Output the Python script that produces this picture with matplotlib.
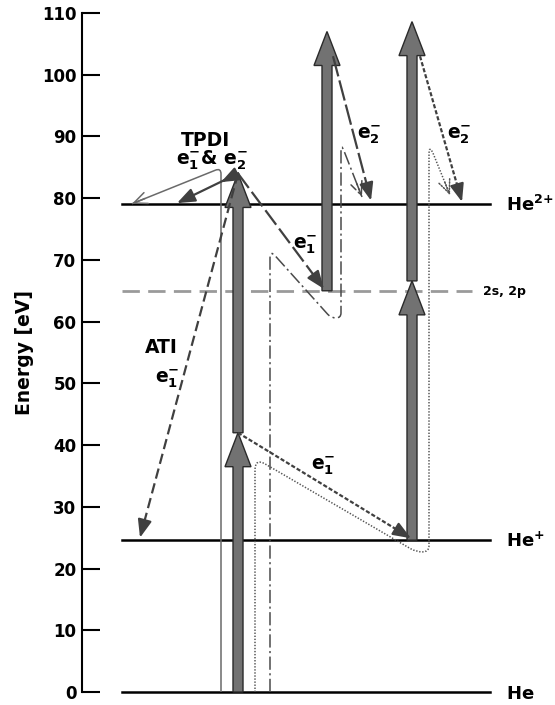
import numpy as np
import matplotlib
matplotlib.use('Agg')
import matplotlib.pyplot as plt
from matplotlib.path import Path
from matplotlib.patches import PathPatch, Polygon

plt.rcParams['font.family'] = ['DejaVu Sans']
plt.rcParams['font.weight'] = 'bold'
plt.rcParams['axes.labelweight'] = 'bold'
plt.rcParams['mathtext.fontset'] = 'dejavusans'
plt.rcParams['lines.scale_dashes'] = False

# energy levels (eV)
level_names = [r'$\mathbf{He}$', r'$\mathbf{He^{+}}$', r'$\mathbf{He^{2{+}}}$']
level_eV = [0.0, 24.6, 79.0]
excited_name = '2s, 2p'
excited_eV = 65.0
photon_eV = 42.0

# photon columns: x position, start energy, number of photons
col_x = [238, 327, 412]
col_start = [0.0, 65.0, 24.6]
col_n = [2, 1, 2]

# electron arrows: x0, E0, x1, E1, dash pattern
electrons = [
    (238, 84.0, 221, 82.6, None),
    (238, 84.0, 177, 79.2, None),
    (238, 84.0, 140, 25.0, (7.5, 3.5)),
    (238, 84.0, 324, 65.3, (13, 3.5)),
    (238, 42.0, 411, 24.9, (3, 1.5)),
    (333, 103.0, 371, 79.6, (15, 3)),
    (420, 103.0, 462, 79.4, (3, 1.5)),
]

# trajectories (x, E)
traj_solid = [(221, 0.0), (221, 84.9), (132, 79.1)]
traj_dashdot = [(270, 0.0), (270, 71.6), (331, 60.6), (341, 60.6), (341, 88.9), (362, 80.2)]
traj_dotted = [(255, 0.0), (255, 37.9), (416, 22.7), (429, 22.7), (429, 88.9), (450, 80.5)]

fig = plt.figure(figsize=(5.55, 7.05), dpi=100)
ax = fig.add_axes([82/555, 13/705, 473/555, 679/705])
ax.set_xlim(82, 555)
ax.set_ylim(0, 110)
K = 679/110.  # px per eV

for s in ['top', 'right', 'bottom']:
    ax.spines[s].set_visible(False)
ax.spines['left'].set_linewidth(1.5)
ax.set_xticks([])
ax.set_yticks(range(0, 111, 10))
ax.tick_params(axis='y', direction='in', length=13, width=1.5, labelsize=12, pad=4)
ax.set_ylabel('Energy [eV]', fontsize=13.5, fontweight='bold', va='center')
ax.yaxis.set_label_coords((25-82)/473., 0.5)

# levels
for name, E in zip(level_names, level_eV):
    ax.plot([122, 490], [E, E], color='black', lw=1.8, clip_on=False, zorder=1)
    ax.text(506, E - 1.1, name, fontsize=13, ha='left', va='baseline')
ax.plot([122, 472], [excited_eV, excited_eV], color='#9a9a9a', lw=2,
        dashes=(12.5, 6), zorder=1)
ax.text(483, excited_eV - 0.7, excited_name, fontsize=9, ha='left', va='baseline')

# photon arrows
def photon(x, y0, y1, bw=10, hw=26, hl=5.5):
    pts = [(x-bw/2, y0), (x+bw/2, y0), (x+bw/2, y1-hl), (x+hw/2, y1-hl),
           (x, y1), (x-hw/2, y1-hl), (x-bw/2, y1-hl)]
    ax.add_patch(Polygon(pts, closed=True, fc='#727272', ec='#2a2a2a',
                         lw=1, zorder=3, clip_on=False))

for x, E0, n in zip(col_x, col_start, col_n):
    for i in range(n):
        photon(x, E0 + i*photon_eV, E0 + (i+1)*photon_eV)

# electron arrows
def electron(x0, y0, x1, y1, dashes, color='#404040'):
    d = np.array([x1-x0, (y1-y0)*K])
    L = np.hypot(*d)
    u = d/L
    bx, by = x1 - u[0]*18, y1 - u[1]*18/K
    ex, ey = x1 - u[0]*6, y1 - u[1]*6/K
    if dashes:
        ax.plot([x0, ex], [y0, ey], color=color, lw=1.6, dashes=dashes, zorder=4)
    else:
        ax.plot([x0, ex], [y0, ey], color=color, lw=1.6, zorder=4)
    ax.annotate('', xy=(x1, y1), xytext=(bx, by),
                arrowprops=dict(arrowstyle='-|>,head_length=0.9,head_width=0.35',
                                mutation_scale=12, color=color, lw=1.6,
                                shrinkA=0, shrinkB=0), zorder=4)

for x0, y0, x1, y1, dsh in electrons:
    electron(x0, y0, x1, y1, dsh)

# trajectories with rounded corners
def rounded(points, radius):
    P = np.array(points, float) * [1, K]
    verts = [P[0]]
    codes = [Path.MOVETO]
    for i in range(1, len(P)-1):
        a, b, c = P[i-1], P[i], P[i+1]
        da, dc = a-b, c-b
        la, lc = np.hypot(*da), np.hypot(*dc)
        r = min(radius, la/2, lc/2)
        verts += [b + da/la*r, b, b + dc/lc*r]
        codes += [Path.LINETO, Path.CURVE3, Path.CURVE3]
    verts.append(P[-1])
    codes.append(Path.LINETO)
    return Path(np.array(verts) / [1, K], codes)

def trajectory(points, radius, ls, color, lw=1.1):
    ax.add_patch(PathPatch(rounded(points, radius), fill=False, ec=color,
                           lw=lw, ls=ls, zorder=2, clip_on=False))
    (xa, ya), (xb, yb) = points[-2], points[-1]
    d = np.array([xb-xa, (yb-ya)*K])
    u = d/np.hypot(*d)
    ax.annotate('', xy=(xb, yb), xytext=(xb - u[0]*14, yb - u[1]*14/K),
                arrowprops=dict(arrowstyle='->,head_length=0.8,head_width=0.35',
                                mutation_scale=12, color=color, lw=lw, ls=ls,
                                shrinkA=0, shrinkB=0), zorder=2)

trajectory(traj_solid, 6, '-', '#6a6a6a')
trajectory(traj_dashdot, 8, (0, (9.5, 2.5, 1.5, 2.5)), '#4a4a4a')
trajectory(traj_dotted, 12, (0, (1, 1.2)), '#555555')

# labels
ax.text(181, 88.4, 'TPDI', fontsize=13.5, ha='left', va='baseline')
ax.text(176, 85.4, r'$\mathbf{e^{-}_{1}}$& $\mathbf{e^{-}_{2}}$', fontsize=13.5,
        ha='left', va='baseline')
ax.text(145, 54.9, 'ATI', fontsize=13.5, ha='left', va='baseline')
ax.text(155, 50.2, r'$\mathbf{e^{-}_{1}}$', fontsize=13.5, ha='left', va='baseline')
ax.text(293, 71.9, r'$\mathbf{e^{-}_{1}}$', fontsize=13.5, ha='left', va='baseline')
ax.text(311, 36.0, r'$\mathbf{e^{-}_{1}}$', fontsize=13.5, ha='left', va='baseline')
ax.text(357, 89.7, r'$\mathbf{e^{-}_{2}}$', fontsize=13.5, ha='left', va='baseline')
ax.text(447, 89.7, r'$\mathbf{e^{-}_{2}}$', fontsize=13.5, ha='left', va='baseline')

fig.savefig('out.png', dpi=100)
